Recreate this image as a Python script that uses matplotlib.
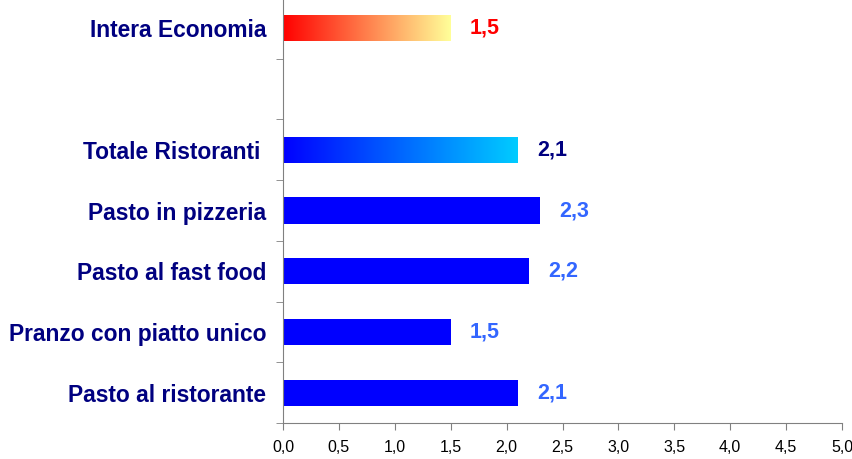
import matplotlib
matplotlib.use("Agg")
import matplotlib.pyplot as plt
import numpy as np
from matplotlib.colors import LinearSegmentedColormap

categories = ["Intera Economia", "", "Totale Ristoranti ", "Pasto in pizzeria",
              "Pasto al fast food", "Pranzo con piatto unico", "Pasto al ristorante"]
values = [1.5, None, 2.1, 2.3, 2.2, 1.5, 2.1]
value_labels = ["1,5", "", "2,1", "2,3", "2,2", "1,5", "2,1"]
label_colors = ["#FF0000", None, "#000080", "#3366FF", "#3366FF", "#3366FF", "#3366FF"]
xticks = [0.0, 0.5, 1.0, 1.5, 2.0, 2.5, 3.0, 3.5, 4.0, 4.5, 5.0]
xtick_labels = ["0,0", "0,5", "1,0", "1,5", "2,0", "2,5", "3,0", "3,5", "4,0", "4,5", "5,0"]

plt.rcParams['font.family'] = ['Liberation Sans', 'DejaVu Sans']

fig = plt.figure(figsize=(8.53, 4.59), dpi=100)
ax = fig.add_axes([283/853, 36/459, (842-283)/853, 425/459])

n = len(categories)
ypos = np.arange(n)[::-1]  # top category at highest y
bar_h = 0.43

gradients = {
    0: ("#FF0000", "#FFFF99"),
    2: ("#0000FF", "#00CCFF"),
}

for i, (cat, v) in enumerate(zip(categories, values)):
    if v is None:
        continue
    y = ypos[i]
    if i in gradients:
        c1, c2 = gradients[i]
        cmap = LinearSegmentedColormap.from_list("g%d" % i, [c1, c2])
        bar = ax.barh(y, v, height=bar_h, color="none", edgecolor="none", zorder=2)[0]
        grad = np.linspace(0, 1, 256).reshape(1, -1)
        im = ax.imshow(grad, cmap=cmap, aspect="auto",
                       extent=[0, v, y - bar_h/2, y + bar_h/2], zorder=2)
        im.set_clip_path(bar)
    else:
        ax.barh(y, v, height=bar_h, color="#0000FF", edgecolor="none", zorder=2)
    ax.text(v + 0.17, y, value_labels[i], color=label_colors[i], fontsize=15.5,
            fontweight="bold", va="center", ha="left")

ax.set_xlim(0, 5.0)
ax.set_ylim(-0.5, n - 0.5)
ax.set_xticks(xticks)
ax.set_xticklabels(xtick_labels, fontsize=11.5)
ax.set_yticks(ypos)
ax.set_yticklabels(categories, fontsize=16.4, fontweight="bold", color="#000080")
ax.set_yticks(np.arange(-0.5, n, 1.0), minor=True)
ax.tick_params(axis="y", which="major", length=0, pad=12)
ax.tick_params(axis="y", which="minor", length=5, direction="out", color="#808080")
ax.tick_params(axis="x", length=5, direction="out", color="#808080", pad=7)

for s in ["top", "right"]:
    ax.spines[s].set_visible(False)
ax.spines["left"].set_color("#808080")
ax.spines["bottom"].set_color("#808080")

fig.savefig("out.png", dpi=100)
